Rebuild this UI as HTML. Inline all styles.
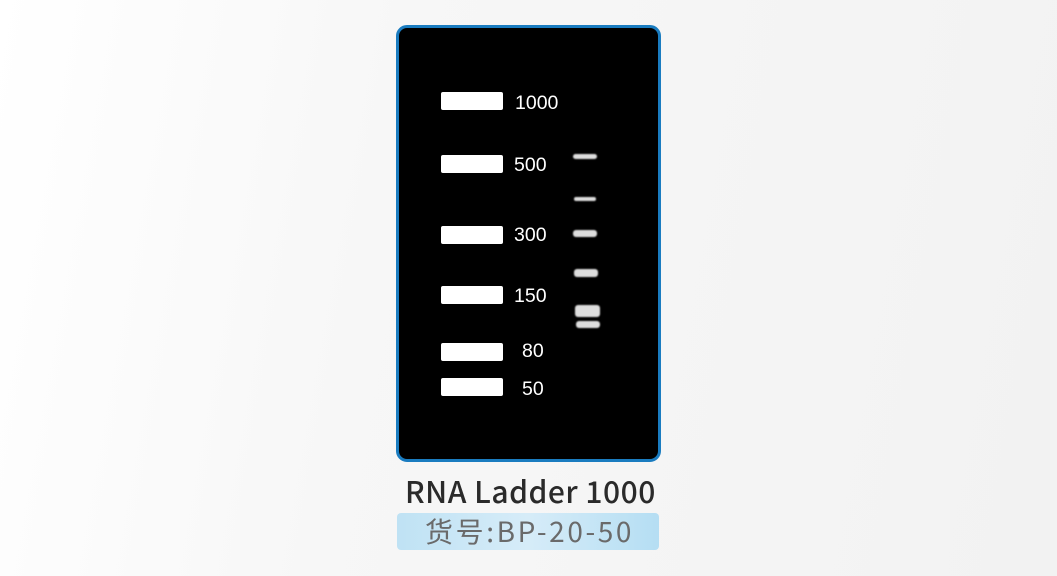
<!DOCTYPE html>
<html><head><meta charset="utf-8"><style>
html,body{margin:0;padding:0}
body{width:1057px;height:576px;overflow:hidden;position:relative;background:linear-gradient(100deg,#ffffff 0%,#f7f7f7 35%,#f2f2f2 100%);font-family:"Liberation Sans","Noto Sans CJK SC",sans-serif}
.panel{position:absolute;left:396px;top:25px;width:259px;height:431px;background:#000;border:3px solid #1a7cc0;border-radius:11px}
.m{position:absolute;left:441px;width:62px;height:18px;background:#fff;border-radius:2px}
.l{position:absolute;color:#fff;font-size:19.5px;line-height:20px}
.b{position:absolute;background:#ddd;border-radius:3px;filter:blur(0.8px)}
.title{position:absolute;left:405px;top:472px;font-size:30px;color:#2a2a2a;letter-spacing:0.5px;font-family:"Noto Sans CJK SC","Liberation Sans",sans-serif;font-weight:500;line-height:36px;white-space:nowrap}
.sub{position:absolute;left:397px;top:513px;width:262px;height:37px;border-radius:4px;background:linear-gradient(90deg,#bfe2f4 0%,#d6ecf8 50%,#b5def3 100%);}
.subt{position:absolute;left:425px;top:512px;font-size:28px;color:#6a6a6a;letter-spacing:2.6px;font-family:"Noto Sans CJK SC","Liberation Sans",sans-serif;line-height:38px;white-space:nowrap}
</style></head><body>
<div class="panel"></div>
<div class="m" style="top:92px"></div><div class="l" style="left:515px;top:93px">1000</div>
<div class="m" style="top:155px"></div><div class="l" style="left:514px;top:155px">500</div>
<div class="m" style="top:226px"></div><div class="l" style="left:514px;top:225px">300</div>
<div class="m" style="top:286px"></div><div class="l" style="left:514px;top:286px">150</div>
<div class="m" style="top:343px"></div><div class="l" style="left:522px;top:341px">80</div>
<div class="m" style="top:378px"></div><div class="l" style="left:522px;top:379px">50</div>
<div class="b" style="left:573px;top:154px;width:24px;height:5px"></div>
<div class="b" style="left:574px;top:197px;width:22px;height:4px"></div>
<div class="b" style="left:573px;top:230px;width:24px;height:7px"></div>
<div class="b" style="left:574px;top:269px;width:24px;height:8px"></div>
<div class="b" style="left:575px;top:305px;width:25px;height:12px"></div>
<div class="b" style="left:576px;top:321px;width:24px;height:7px"></div>
<div class="title">RNA Ladder 1000</div>
<div class="sub"></div>
<div class="subt">货号:BP-20-50</div>
</body></html>
